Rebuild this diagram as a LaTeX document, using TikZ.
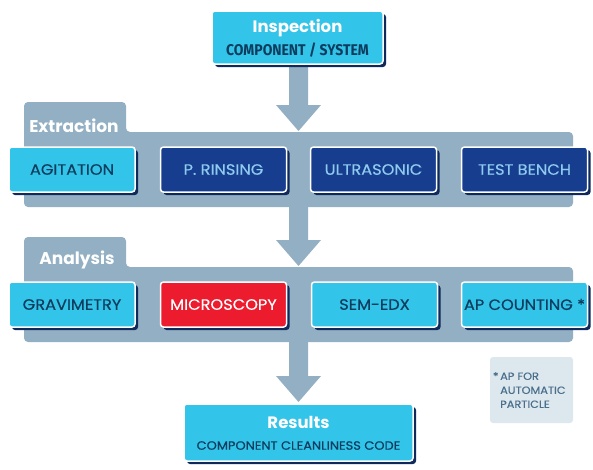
\documentclass[tikz,border=0pt]{standalone}
\usepackage{fontspec}
\setmainfont{Poppins}
\newfontfamily\medfont[FakeStretch=1.08, FakeBold=0.4]{Poppins}
\newfontfamily\condfont[FakeStretch=0.9]{Fira Sans}
\usetikzlibrary{shadows,calc}
\definecolor{cyanbox}{HTML}{33C4E9}
\definecolor{darkbox}{HTML}{173E8E}
\definecolor{redbox}{HTML}{ED1B2E}
\definecolor{panelc}{HTML}{93AFC3}
\definecolor{shadowc}{HTML}{0F2A5A}
\definecolor{darktext}{HTML}{0D3D5E}
\definecolor{lighttext}{HTML}{8FCBEF}
\definecolor{notebg}{HTML}{DDE7EE}
\definecolor{notetext}{HTML}{4A6F8C}
\tikzset{
  basebox/.style={draw=white, line width=1.5pt, rounded corners=3pt,
    drop shadow={opacity=1, fill=shadowc, shadow xshift=3pt, shadow yshift=-3pt},
    inner sep=0pt, align=center},
  stepbox/.style={basebox, minimum width=126pt, minimum height=45pt, font=\medfont\fontsize{15}{17}\selectfont},
  cyanstep/.style={stepbox, fill=cyanbox, text=darktext},
  darkstep/.style={stepbox, fill=darkbox, text=lighttext},
  redstep/.style={stepbox, fill=redbox, text=white},
  paneltitle/.style={font=\fontsize{17}{19}\selectfont\bfseries, text=white, inner sep=0pt},
  boxtitle/.style={font=\fontsize{16.5}{19}\selectfont\bfseries, text=white, inner sep=0pt},
}
\begin{document}
\begin{tikzpicture}[x=1pt,y=1pt]
\useasboundingbox (0,0) rectangle (593,-469);
% panels
\fill[panelc, rounded corners=4pt] (24,-207) -- (24,-102) -- (126,-102) -- (126,-132) -- (573,-132) -- (573,-207) -- cycle;
\fill[panelc, rounded corners=4pt] (24,-342) -- (24,-237) -- (126,-237) -- (126,-267) -- (573,-267) -- (573,-342) -- cycle;
\node[paneltitle] (ext) at (74,-126) {Extraction};
\node[paneltitle] (ana) at (77,-260) {Analysis};
% arrows
\newcommand\flowarrow[2]{%
  \fill[panelc] ($(#1)+(-9.5,0)$) -- ($(#2)+(-9.5,26)$) -- ($(#2)+(-22.5,26)$) -- (#2)
    -- ($(#2)+(22.5,26)$) -- ($(#2)+(9.5,26)$) -- ($(#1)+(9.5,0)$) -- cycle;}
\coordinate (a1t) at (298.5,-62);
\coordinate (a1b) at (298.5,-131);
\coordinate (a2t) at (298.5,-206);
\coordinate (a2b) at (298.5,-266);
\coordinate (a3t) at (298.5,-341);
\coordinate (a3b) at (298.5,-402);
\flowarrow{a1t}{a1b}
\flowarrow{a2t}{a2b}
\flowarrow{a3t}{a3b}
% top box
\node[basebox, fill=cyanbox, minimum width=171pt, minimum height=53pt] (insp) at (297.5,-37.5) {};
\node[boxtitle] (inspt) at (297.5,-28) {Inspection};
\node[font=\condfont\bfseries\fontsize{15.5}{17}\selectfont, text=darktext, inner sep=0pt] (insps) at (297.5,-50.5) {COMPONENT / SYSTEM};
% row 1
\node[cyanstep] (agit) at (72,-169.5) {AGITATION};
\node[darkstep] (prins) at (223.5,-169.5) {P. RINSING};
\node[darkstep] (ultra) at (373.5,-169.5) {ULTRASONIC};
\node[darkstep] (bench) at (524.5,-169.5) {TEST BENCH};
% row 2
\node[cyanstep] (grav) at (72,-304.5) {GRAVIMETRY};
\node[redstep] (micro) at (223.5,-304.5) {MICROSCOPY};
\node[cyanstep] (sem) at (374.5,-304.5) {SEM-EDX};
\node[cyanstep] (apc) at (524.5,-304.5) {AP COUNTING *};
% results
\node[basebox, fill=cyanbox, minimum width=229pt, minimum height=57pt] (res) at (298.5,-432.5) {};
\node[boxtitle] (rest) at (298.5,-422) {Results};
\node[font=\medfont\fontsize{12}{14}\selectfont, text=darktext, inner sep=0pt] (ress) at (298.5,-445.5) {COMPONENT CLEANLINESS CODE};
% note
\node[fill=notebg, rounded corners=3pt, minimum width=83pt, minimum height=66pt, inner sep=0pt] (note) at (531.5,-390) {};
\node[font=\medfont\fontsize{10.5}{14}\selectfont, text=notetext, align=left, anchor=north west, inner sep=0pt] (notet) at (500,-372)
  {\llap{*\,}AP FOR\\AUTOMATIC\\PARTICLE};
\end{tikzpicture}
\end{document}
